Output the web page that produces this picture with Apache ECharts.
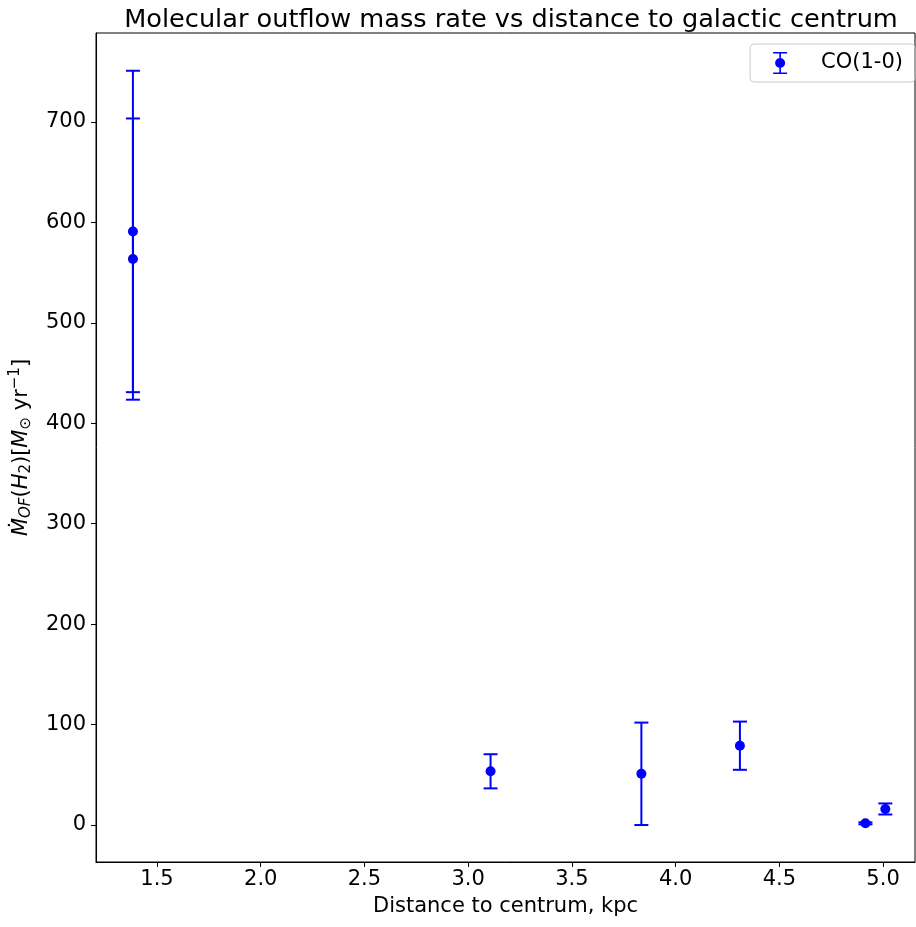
<!DOCTYPE html>
<html><head><meta charset="utf-8">
<script src="https://cdn.jsdelivr.net/npm/echarts@6/dist/echarts.min.js"></script>
<style>html,body{margin:0;padding:0;background:#fff}#c{width:916px;height:927px}</style>
</head><body><div id="c"></div>
<script>
const distances = [1.384, 1.384, 3.108, 3.835, 4.310, 4.915, 5.011];
const massRates = [591, 563.5, 53.5, 51, 79, 1.7, 16];
const errors = [160, 140, 17, 51, 24, 1, 5.5];
const xTicks = [1.5, 2.0, 2.5, 3.0, 3.5, 4.0, 4.5, 5.0];
const yTicks = [0, 100, 200, 300, 400, 500, 600, 700];
const seriesName = 'CO(1-0)';

const pts = distances.map((d, i) => [d, massRates[i], errors[i]]);
const F = 'DejaVu Sans';
const chart = echarts.init(document.getElementById('c'));
chart.setOption({
  animation: false,
  title: { text: 'Molecular outflow mass rate vs distance to galactic centrum', left: 506, textAlign: 'center', top: 2,
    textStyle: { fontFamily: F, fontSize: 25.6, fontWeight: 'normal', color: '#000' } },
  grid: { left: 96, right: 1, top: 33, bottom: 65, show: true, borderColor: '#000', borderWidth: 1 },
  legend: {
    right: 1, top: 44, orient: 'vertical',
    borderColor: '#ccc', borderWidth: 1, borderRadius: 4, padding: [8, 12, 8, 23],
    itemWidth: 14, itemHeight: 22, itemGap: 5,
    textStyle: { fontFamily: F, fontSize: 21, color: '#000', padding: [0, 0, 0, 29] },
    data: [{ name: seriesName, icon: 'path://M-7,-11 h14 v1.6 h-14 z M-0.8,-11 h1.6 v22 h-1.6 z M-7,9.4 h14 v1.6 h-14 z M0,-5 A5,5 0 1,1 0,5 A5,5 0 1,1 0,-5 z', itemStyle: { color: '#0000ff' } }]
  },
  xAxis: {
    type: 'value', min: 1.206, max: 5.154,
    name: 'Distance to centrum, kpc', nameLocation: 'middle', nameGap: 34,
    nameTextStyle: { fontFamily: F, fontSize: 21, color: '#000' },
    splitLine: { show: false },
    axisLine: { show: true, onZero: false, lineStyle: { color: '#000' } },
    axisTick: { show: true, length: 5, lineStyle: { color: '#000' }, customValues: xTicks },
    axisLabel: { customValues: xTicks, fontFamily: F, fontSize: 21, color: '#000', margin: 7, formatter: v => v.toFixed(1) }
  },
  yAxis: {
    type: 'value', min: -36.8, max: 788.6,
    name: '{i|Ṁ}{s|OF}{a|(}{i|H}{r|2}{a|)[}{i|M}{r|⊙}{a| yr}{p|−1}{a|]}', nameLocation: 'middle', nameGap: 56, nameRotate: 90,
    nameTextStyle: { fontFamily: F, fontSize: 21, color: '#000',
      rich: {
        a: { fontFamily: F, fontSize: 21, color: '#000', lineHeight: 30, verticalAlign: 'middle' },
        i: { fontFamily: F, fontSize: 21, color: '#000', fontStyle: 'italic', lineHeight: 30, verticalAlign: 'middle' },
        s: { fontFamily: F, fontSize: 15, color: '#000', fontStyle: 'italic', lineHeight: 30, padding: [10, 0, 0, 0], verticalAlign: 'middle' },
        r: { fontFamily: F, fontSize: 15, color: '#000', lineHeight: 30, padding: [10, 0, 0, 0], verticalAlign: 'middle' },
        p: { fontFamily: F, fontSize: 15, color: '#000', lineHeight: 30, padding: [0, 0, 12, 0], verticalAlign: 'middle' }
      } },
    splitLine: { show: false },
    axisLine: { show: true, onZero: false, lineStyle: { color: '#000' } },
    axisTick: { show: true, length: 5, lineStyle: { color: '#000' }, customValues: yTicks },
    axisLabel: { customValues: yTicks, fontFamily: F, fontSize: 21, color: '#000', margin: 10 }
  },
  series: [
    {
      name: seriesName, type: 'custom', data: pts, z: 2,
      renderItem: (params, api) => {
        const x = api.value(0), y = api.value(1), e = api.value(2);
        const top = api.coord([x, y + e]);
        const bot = api.coord([x, y - e]);
        const hw = 7;
        const st = { stroke: '#0000ff', lineWidth: 2 };
        return { type: 'group', children: [
          { type: 'line', shape: { x1: top[0], y1: top[1], x2: bot[0], y2: bot[1] }, style: st },
          { type: 'line', shape: { x1: top[0] - hw, y1: top[1], x2: top[0] + hw, y2: top[1] }, style: st },
          { type: 'line', shape: { x1: bot[0] - hw, y1: bot[1], x2: bot[0] + hw, y2: bot[1] }, style: st }
        ] };
      }
    },
    {
      name: seriesName, type: 'scatter', data: pts.map(p => [p[0], p[1]]), symbolSize: 10, z: 3,
      itemStyle: { color: '#0000ff', opacity: 1 }
    }
  ]
});
</script></body></html>
